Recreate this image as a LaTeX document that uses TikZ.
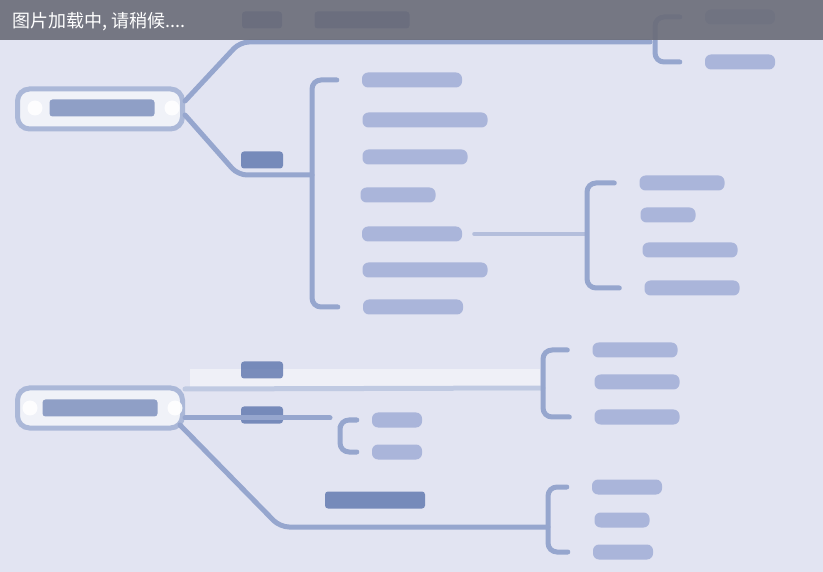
\documentclass[tikz,border=0pt]{standalone}
\usepackage{fontspec}
\newfontfamily\cjk{Noto Sans CJK SC}
\usetikzlibrary{positioning}
\definecolor{paper}{RGB}{226,228,242}
\definecolor{band}{RGB}{106,108,120}
\definecolor{wire}{RGB}{150,166,206}
\definecolor{blur}{RGB}{156,170,212}
\definecolor{deep}{RGB}{92,116,172}

\begin{document}
\begin{tikzpicture}[x=1pt,y=-1pt,
  bar/.style={fill=blur,rounded corners=6pt,minimum height=15pt,inner sep=0pt,opacity=.8},
  key/.style={fill=deep,rounded corners=3pt,minimum height=17pt,inner sep=0pt,opacity=.8},
  root/.style={draw=wire!80,line width=5pt,fill=paper!50!white,rounded corners=12pt,minimum width=165pt,minimum height=40pt},
  wire/.style={draw=wire,line width=5pt,line cap=round,rounded corners=9pt},
  glow/.style={fill=white,circle,minimum size=15pt,inner sep=0pt,opacity=.9}]
\fill[paper] (0,0) rectangle (823,572);

% first tree
\node[root] (r1) at (100,109) {};
\node[glow] at (35,108) {};
\node[glow] at (172,108) {};
\node[key,minimum width=105pt,opacity=.65] at (102,108) {};
\coordinate (t1) at (240,42);
\coordinate (t2) at (238,175);
\node[key,minimum width=42pt] (k1) at (262,160) {};
\node[key,minimum width=40pt] (k0) at (262,20) {};
\node[key,minimum width=95pt] (k00) at (362,20) {};
\draw[wire] ([yshift=8pt]r1.east) -- (t1) -- (650,42);
\draw[wire] ([yshift=-6pt]r1.east) -- (t2) -- (312,175);

% top right bracket
\node[bar,minimum width=70pt] (c1) at (740,17) {};
\node[bar,minimum width=70pt] (c2) at (740,62) {};
\draw[wire] ([xshift=-25pt]c1.west) -| (655,42) |- ([xshift=-25pt]c2.west);

% list of the second branch
\node[bar,minimum width=100pt] (a1) at (412,80) {};
\node[bar,minimum width=125pt] (a2) at (425,120) {};
\node[bar,minimum width=105pt] (a3) at (415,157) {};
\node[bar,minimum width=75pt] (a4) at (398,195) {};
\node[bar,minimum width=100pt] (a5) at (412,234) {};
\node[bar,minimum width=125pt] (a6) at (425,270) {};
\node[bar,minimum width=100pt] (a7) at (413,307) {};
\draw[wire] ([xshift=-25pt]a1.west) -| (312,175) |- ([xshift=-25pt]a7.west);

\node[bar,minimum width=85pt] (b1) at (682,183) {};
\node[bar,minimum width=55pt] (b2) at (668,215) {};
\node[bar,minimum width=95pt] (b3) at (690,250) {};
\node[bar,minimum width=95pt] (b4) at (692,288) {};
\coordinate (bm) at (587,234);
\draw[wire,line width=4pt,opacity=.6] ([xshift=12pt]a5.east) -- (bm);
\draw[wire] ([xshift=-25pt]b1.west) -| (bm) |- ([xshift=-25pt]b4.west);

% second tree
\draw[white,line width=22pt,opacity=.45] (190,380) -- (540,380);
\node[root] (r2) at (100,408) {};
\node[glow] at (30,408) {};
\node[glow] at (175,408) {};
\node[key,minimum width=115pt,opacity=.65] at (100,408) {};
\node[key,minimum width=42pt] (k2) at (262,370) {};
\node[key,minimum width=42pt] (k3) at (262,415) {};
\node[key,minimum width=100pt] (k4) at (375,500) {};
\draw[wire,draw=wire!60!white] ([yshift=19pt]r2.east) -- (543,388);
\draw[wire] ([yshift=-10pt]r2.east) -- (330,418);
\draw[wire] ([yshift=-17pt,xshift=-5pt]r2.east) -- (280,527) -- (548,527);

\node[bar,minimum width=85pt] (d1) at (635,350) {};
\node[bar,minimum width=85pt] (d2) at (637,382) {};
\node[bar,minimum width=85pt] (d3) at (637,417) {};
\draw[wire] ([xshift=-25pt]d1.west) -| (543,388) |- ([xshift=-25pt]d3.west);

\node[bar,minimum width=50pt] (e1) at (397,420) {};
\node[bar,minimum width=50pt] (e2) at (397,452) {};
\draw[wire] ([xshift=-15pt]e1.west) -| (340,435) |- ([xshift=-15pt]e2.west);

\node[bar,minimum width=70pt] (f1) at (627,487) {};
\node[bar,minimum width=55pt] (f2) at (622,520) {};
\node[bar,minimum width=60pt] (f3) at (623,552) {};
\draw[wire] ([xshift=-25pt]f1.west) -| (548,527) |- ([xshift=-25pt]f3.west);

% loading band
\fill[band,opacity=.9] (0,0) rectangle (823,40);
\node[white,anchor=west,font=\cjk\fontsize{18}{21}\selectfont,inner sep=0pt] (msg) at (12,22) {图片加载中, 请稍候....};
\end{tikzpicture}
\end{document}
